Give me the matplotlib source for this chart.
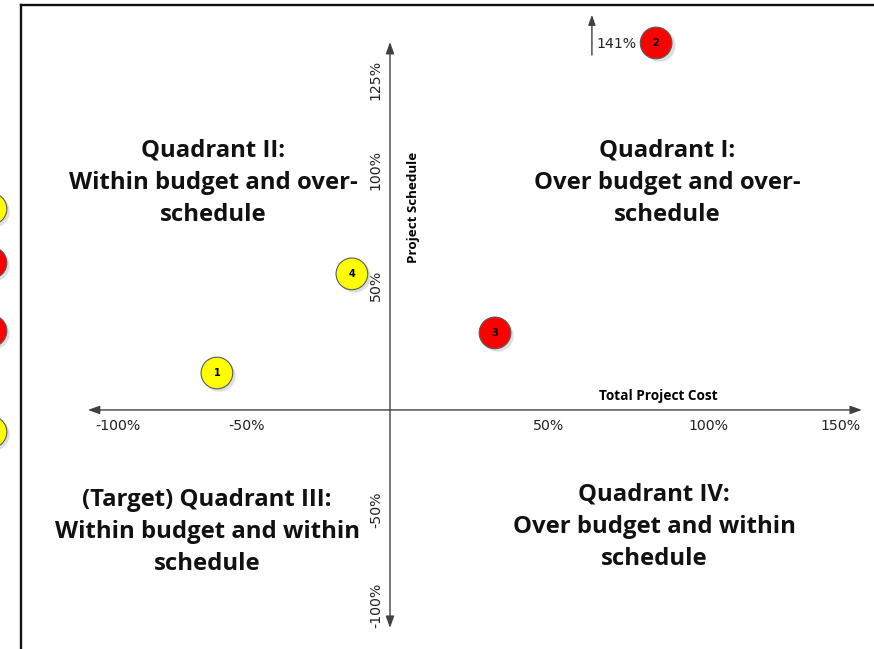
"""
Cost / schedule quadrant chart: project bubbles placed by cost and schedule variance.
"""

import matplotlib

matplotlib.use("Agg")
import matplotlib.pyplot as plt
from matplotlib.lines import Line2D

# --- data -------------------------------------------------------------------
project_ids = ["1", "2", "3", "4"]
cost_var = [-57.7, 88.7, 35.0, -12.7]          # % total project cost variance
schedule_var = [15.4, 152.9, 32.1, 56.7]       # % schedule variance
project_status = ["yellow", "red", "red", "yellow"]

# bubbles of the neighbouring chart, cut off at the left edge
edge_cost = [-133.0, -133.0, -133.0, -133.0]
edge_schedule = [83.8, 61.3, 32.9, -9.2]
edge_status = ["yellow", "red", "red", "yellow"]

x_tick_labels = ["-100%", "-50%", "50%", "100%", "150%"]
y_tick_labels = ["125%", "100%", "50%", "-50%", "-100%"]
off_chart_label = "141%"

quadrant_texts = [
    "Quadrant II:\nWithin budget and over-\nschedule",
    "Quadrant I:\nOver budget and over-\nschedule",
    "(Target) Quadrant III:\nWithin budget and within\nschedule",
    "Quadrant IV:\nOver budget and within\nschedule",
]

# --- layout (data units of the drawing) --------------------------------------
X_TICK_POS = [-90.7, -48.0, 53.0, 106.0, 150.0]
Y_TICK_POS = [137.5, 100.0, 52.1, -41.7, -81.3]
QUAD_POS = [(-59.0, 94.6), (92.3, 94.6), (-61.0, -50.8), (88.0, -48.8)]

COLORS = {"red": "#FF0000", "yellow": "#FFFF00"}
AXIS_COLOR = "#404040"

fig = plt.figure(figsize=(8.74, 6.49), dpi=100)
ax = fig.add_axes([0, 0, 1, 1])
ax.set_xlim(-130.0, 161.33)
ax.set_ylim(-99.6, 170.8)
ax.axis("off")

# frame (left + top only)
fig.add_artist(Line2D([0.024, 0.024], [0.0, 0.9925], transform=fig.transFigure,
                      color="#111111", lw=1.7))
fig.add_artist(Line2D([0.024, 1.0], [0.9925, 0.9925], transform=fig.transFigure,
                      color="#111111", lw=1.7))

arrow_kw = dict(arrowstyle="<|-|>,head_length=0.5,head_width=0.18",
                color=AXIS_COLOR, lw=1.0, shrinkA=0, shrinkB=0, mutation_scale=14)
ax.annotate("", xy=(157.3, 0), xytext=(-100.7, 0), arrowprops=arrow_kw)
ax.annotate("", xy=(0, 153.3), xytext=(0, -90.8), arrowprops=arrow_kw)

# tick labels
for pos, lab in zip(X_TICK_POS, x_tick_labels):
    ax.text(pos, -6.7, lab, ha="center", va="center", fontsize=10.2,
            family="DejaVu Sans", color="#222222")
for pos, lab in zip(Y_TICK_POS, y_tick_labels):
    ax.text(-4.7, pos, lab, ha="center", va="center", fontsize=10.2, rotation=90,
            family="DejaVu Sans", color="#222222")

ax.text(89.3, 5.8, "Total Project Cost", ha="center", va="center",
        fontsize=9.8, fontweight="bold", family="Open Sans")
ax.text(7.7, 84.2, "Project Schedule", ha="center", va="center", rotation=90,
        fontsize=9.6, fontweight="bold", family="Open Sans")

for (qx, qy), txt in zip(QUAD_POS, quadrant_texts):
    ax.text(qx, qy, txt, ha="center", va="center", fontsize=17.2,
            fontweight="bold", family="Open Sans", linespacing=1.45, color="#111111")

# off-chart marker for project 2
ax.annotate("", xy=(67.3, 164.6), xytext=(67.3, 147.9),
            arrowprops=dict(arrowstyle="-|>,head_length=0.5,head_width=0.18",
                            color=AXIS_COLOR, lw=1.0, shrinkA=0, shrinkB=0,
                            mutation_scale=12))
ax.text(68.7, 152.5, off_chart_label, ha="left", va="center", fontsize=10.2,
        family="DejaVu Sans", color="#222222")

# bubbles
def draw_bubbles(xs, ys, status, labels=None):
    ax.scatter([x + 0.8 for x in xs], [y - 1.0 for y in ys], s=540,
               color="#c8c8c8", alpha=0.6, zorder=3, linewidths=0)
    ax.scatter(xs, ys, s=520, c=[COLORS[s] for s in status],
               edgecolors="#5a5a5a", linewidths=0.8, zorder=4)
    if labels:
        for x, y, lab in zip(xs, ys, labels):
            ax.text(x, y, lab, ha="center", va="center", fontsize=7,
                    fontweight="bold", zorder=5)


draw_bubbles(cost_var, schedule_var, project_status, project_ids)
draw_bubbles(edge_cost, edge_schedule, edge_status)

fig.savefig("out.png", dpi=100)
